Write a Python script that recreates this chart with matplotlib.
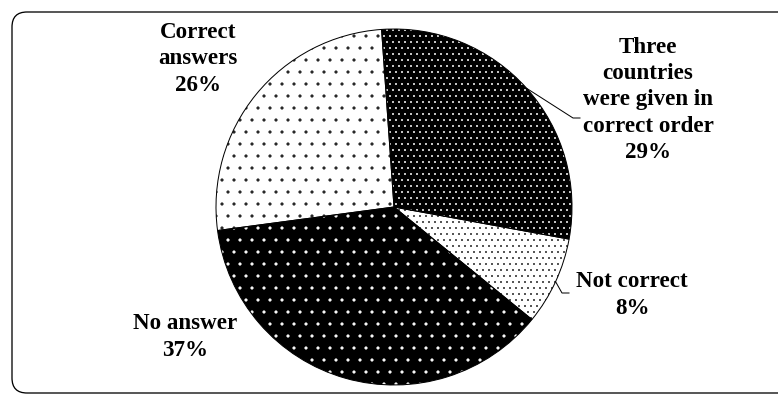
import numpy as np
import matplotlib
matplotlib.use('Agg')
import matplotlib.pyplot as plt
from matplotlib.lines import Line2D
from matplotlib.patches import FancyBboxPatch
from matplotlib.transforms import IdentityTransform

plt.rcParams['font.family'] = ['Liberation Serif', 'DejaVu Serif']
plt.rcParams['hatch.linewidth'] = 0.7

# answer shares, clockwise from the top
labels = ['Three\ncountries\nwere given in\ncorrect order', 'Not correct',
          'No answer', 'Correct\nanswers']
shares = [29, 8, 37, 26]
fills = ['black', 'white', 'black', 'white']
dot_colors = ['white', '#222222', 'white', '#222222']
hatches = ['..', '..', '.', '.']

W, H = 778, 396
fig = plt.figure(figsize=(W / 72, H / 72), dpi=72)
cx, cy, r = 394, 207, 178   # pie centre / radius in pixels (top-left origin)
ax = fig.add_axes([(cx - r) / W, (H - cy - r) / H, 2 * r / W, 2 * r / H])

start = 94
wedges, _ = ax.pie(shares, startangle=start, counterclock=False, colors=fills,
                   hatch=hatches, wedgeprops=dict(linewidth=0))
for w, c in zip(wedges, dot_colors):
    w.set_edgecolor(c)
# outlines on top of the dotted fills
ax.pie(shares, startangle=start, counterclock=False, colors=['none'] * 4,
       wedgeprops=dict(edgecolor='black', linewidth=1.0))
ax.set_xlim(-1, 1)
ax.set_ylim(-1, 1)

ident = IdentityTransform()
font = dict(fontsize=23, fontweight='bold', ha='center', va='center',
            linespacing=1.33, transform=ident)

def px(x, y):
    return x, H - y

label_pos = [(648, 100), (632, 295), (185, 337), (198, 59)]
for lab, s, (x, y) in zip(labels, shares, label_pos):
    fig.text(*px(x, y), f'{lab}\n{s}%', **font)

# leader lines from the middle of the outer arc to the label
def leader(i, bend, end):
    w = wedges[i]
    mid = np.deg2rad((w.theta1 + w.theta2) / 2)
    x0, y0 = ax.transData.transform((np.cos(mid), np.sin(mid)))
    xs = [x0, bend[0], end[0]]
    ys = [y0, H - bend[1], H - end[1]]
    fig.add_artist(Line2D(xs, ys, transform=ident, color='black', lw=1.0))

leader(0, (573, 118), (580, 118))
leader(1, (562, 293), (569, 293))

border = FancyBboxPatch((12, 3), 800, 381,
                        boxstyle='round,pad=0,rounding_size=15',
                        transform=ident, fill=False, edgecolor='black',
                        linewidth=1.3)
fig.add_artist(border)

fig.savefig('out.png', dpi=72)
